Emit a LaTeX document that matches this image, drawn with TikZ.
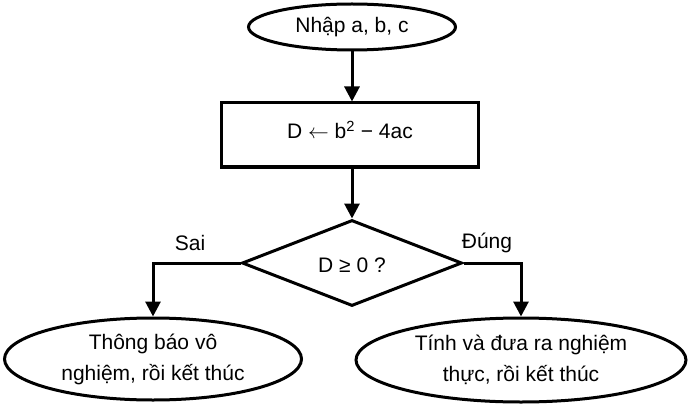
\documentclass[tikz,border=0pt]{standalone}
\usepackage{fontspec}
\setmainfont{Liberation Sans}
\usetikzlibrary{shapes.geometric,arrows.meta}
\begin{document}
\begin{tikzpicture}[x=1pt,y=-1pt,
  every node/.style={font=\fontsize{21}{31}\selectfont},
  term/.style={draw,line width=3pt,ellipse,inner sep=0pt,align=center},
  procbox/.style={draw,line width=3pt,rectangle,inner sep=0pt},
  decide/.style={draw,line width=3pt,diamond,inner sep=0pt},
  flow/.style={line width=3pt,-{Triangle[length=15pt,width=15pt]}},
  lbl/.style={inner sep=0pt}]
\useasboundingbox (0,0) rectangle (695,406);
\node[term,minimum width=207pt,minimum height=46pt] (inp) at (352,27) {Nhập a, b, c};
\node[procbox,minimum width=257pt,minimum height=64pt] (calc) at (350,135) {};
\node[lbl] (calct) at (350,130) {D \ensuremath{\leftarrow} b\textsuperscript{2} − 4ac};
\node[decide,minimum width=220pt,minimum height=86pt] (dec) at (352,263) {};
\node[lbl] (dect) at (352,265) {D ≥ 0 ?};
\node[term,minimum width=297pt,minimum height=82pt] (no) at (153,359) {Thông báo vô\\nghiệm, rồi kết thúc};
\node[term,minimum width=330pt,minimum height=84pt] (yes) at (521,360) {Tính và đưa ra nghiệm\\thực, rồi kết thúc};
\node[lbl] (sai) at (190,243) {Sai};
\node[lbl] (dung) at (487,243) {Đúng};
\draw[flow] (inp.south) -- (inp.south |- calc.north);
\draw[flow] (dec.north |- calc.south) -- (dec.north);
\draw[flow] (dec.west) -| (no.north);
\draw[flow] (dec.east) -| (yes.north);
\end{tikzpicture}
\end{document}
